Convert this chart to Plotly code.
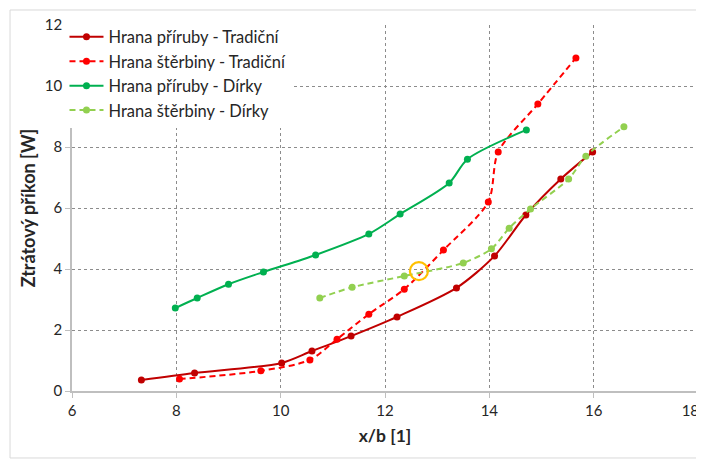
import plotly.graph_objects as go

# --- data ---
priruba_trad_x = [7.33, 8.35, 10.02, 10.6, 11.35, 12.23, 13.37, 14.1, 14.7, 15.37, 15.98]
priruba_trad_y = [0.36, 0.59, 0.92, 1.31, 1.8, 2.43, 3.38, 4.43, 5.77, 6.95, 7.84]

sterbina_trad_x = [8.06, 9.62, 10.56, 11.08, 11.69, 12.37, 13.12, 13.98, 14.17, 14.93, 15.66]
sterbina_trad_y = [0.39, 0.66, 1.02, 1.7, 2.52, 3.34, 4.62, 6.2, 7.84, 9.41, 10.92]

priruba_dirky_x = [7.98, 8.4, 9.0, 9.67, 10.67, 11.69, 12.29, 13.23, 13.58, 14.71]
priruba_dirky_y = [2.72, 3.05, 3.5, 3.9, 4.46, 5.15, 5.8, 6.82, 7.6, 8.56]

sterbina_dirky_x = [10.75, 11.37, 12.37, 13.5, 14.04, 14.38, 14.79, 15.52, 15.85, 16.58]
sterbina_dirky_y = [3.05, 3.4, 3.77, 4.2, 4.66, 5.34, 5.97, 6.95, 7.7, 8.66]

highlight_x = [12.65]
highlight_y = [3.93]

x_ticks = [6, 8, 10, 12, 14, 16, 18]
# the last label is padded so it stays inside the page edge
x_tick_labels = ["6", "8", "10", "12", "14", "16", "18" + "\u00a0" * 4]
y_ticks = [0, 2, 4, 6, 8, 10, 12]

FONT = "Lato, 'Open Sans', sans-serif"
GRID = "#8C8C8C"
AXIS = "#BFBFBF"

series = [
    ("Hrana příruby - Tradiční", priruba_trad_x, priruba_trad_y, "#C00000", "solid"),
    ("Hrana štěrbiny - Tradiční", sterbina_trad_x, sterbina_trad_y, "#FF0000", "6px,4px"),
    ("Hrana příruby - Dírky", priruba_dirky_x, priruba_dirky_y, "#00B050", "solid"),
    ("Hrana štěrbiny - Dírky", sterbina_dirky_x, sterbina_dirky_y, "#92D050", "6px,4px"),
]

fig = go.Figure()
for name, xs, ys, color, dash in series:
    fig.add_trace(go.Scatter(
        x=xs, y=ys, name=name, mode="lines+markers",
        line=dict(color=color, width=2, dash=dash, shape="spline", smoothing=0.8),
        marker=dict(color=color, size=7),
    ))

# orange ring marking the crossing point
fig.add_trace(go.Scatter(
    x=highlight_x, y=highlight_y, mode="markers", showlegend=False,
    marker=dict(symbol="circle-open", size=18, color="#FFC000", line=dict(width=2.2)),
    hoverinfo="skip",
))

# light outer chart border
fig.add_shape(type="rect", xref="paper", yref="paper",
              x0=-0.099, x1=1.02, y0=-0.183, y1=1.041,
              line=dict(color="#D9D9D9", width=1), fillcolor="rgba(0,0,0,0)", layer="below")

# page body keeps its default 8px margin, so the figure is 8px smaller
fig.update_layout(
    width=696, height=451,
    margin=dict(l=64, r=6, t=17, b=68, autoexpand=False),
    paper_bgcolor="white", plot_bgcolor="white",
    font=dict(family=FONT, size=15, color="#262626"),
    showlegend=True,
    legend=dict(x=-0.012, y=1.015, xanchor="left", yanchor="top",
                bgcolor="white", borderwidth=0, font=dict(size=16.5),
                tracegroupgap=0, itemwidth=34),
    xaxis=dict(
        range=[6, 18], tickvals=x_ticks, ticktext=x_tick_labels,
        ticks="outside", ticklen=5, tickcolor=AXIS,
        showline=True, linecolor=AXIS, linewidth=1.5, automargin=False,
        ticklabeloverflow="allow",
        showgrid=True, gridcolor=GRID, griddash="3px,3px", gridwidth=1,
        zeroline=False, tickfont=dict(size=15),
        title=dict(text="<b>x/b [1]</b>", font=dict(size=17.5), standoff=12),
    ),
    yaxis=dict(
        range=[0, 12], tickvals=y_ticks, ticks="outside", ticklen=5, tickcolor=AXIS,
        showline=True, linecolor=AXIS, linewidth=1.5, mirror=True, automargin=False,
        showgrid=True, gridcolor=GRID, griddash="3px,3px", gridwidth=1,
        zeroline=False, tickfont=dict(size=15),
        title=dict(text="<b>Ztrátový příkon [W]</b>", font=dict(size=18), standoff=5),
    ),
)

fig.write_html("out.html")
